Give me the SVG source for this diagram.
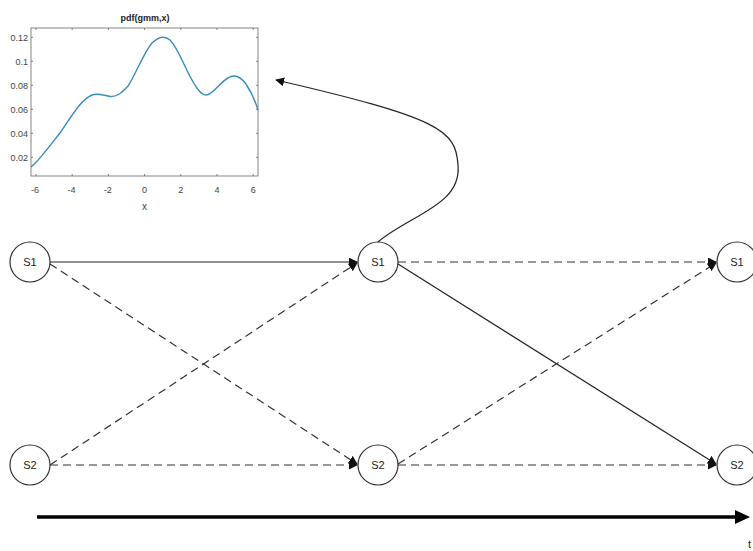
<svg xmlns="http://www.w3.org/2000/svg" width="753" height="551" viewBox="0 0 753 551">
<style>
.node circle{fill:#fff;stroke:#333;stroke-width:1.2}
.node text{font-family:"Liberation Sans",Arial,sans-serif;font-size:11px;fill:#222;text-anchor:middle}
.edge{fill:none;stroke:#222;stroke-width:1.2}
.dash{stroke-dasharray:8 5;stroke:#333}
.tick{font-family:"Liberation Sans",Arial,sans-serif;font-size:9px;fill:#444}
.ax{fill:none;stroke:#666;stroke-width:0.8}
</style>
<defs>
<marker id="ah" viewBox="0 0 10 10" refX="9" refY="5" markerWidth="9" markerHeight="9" markerUnits="userSpaceOnUse" orient="auto"><path d="M0,0 L10,5 L0,10 z" fill="#111"/></marker>
<marker id="ahs" viewBox="0 0 10 10" refX="9" refY="5" markerWidth="9" markerHeight="9" markerUnits="userSpaceOnUse" orient="auto"><path d="M0,0 L10,5 L0,10 z" fill="#111"/></marker>
</defs>
<rect width="753" height="551" fill="#fff"/>
<g id="plot">
<rect class="ax" x="31" y="28" width="227" height="148" fill="#fff"/>
<text x="145" y="21" font-family="Liberation Sans,Arial,sans-serif" font-size="9px" font-weight="bold" fill="#222" text-anchor="middle">pdf(gmm,x)</text>
<g class="ax">
<path d="M31,37.3h2M31,61.3h2M31,85.3h2M31,109.3h2M31,133.3h2M31,157.3h2M258,37.3h-2M258,61.3h-2M258,85.3h-2M258,109.3h-2M258,133.3h-2M258,157.3h-2"/>
<path d="M36,176v-2M72.2,176v-2M108.4,176v-2M144.6,176v-2M180.8,176v-2M217,176v-2M253.2,176v-2M36,28v2M72.2,28v2M108.4,28v2M144.6,28v2M180.8,28v2M217,28v2M253.2,28v2"/>
</g>
<g class="tick" text-anchor="end">
<text x="28" y="40.5">0.12</text><text x="28" y="64.5">0.1</text><text x="28" y="88.5">0.08</text><text x="28" y="112.5">0.06</text><text x="28" y="136.5">0.04</text><text x="28" y="160.5">0.02</text>
</g>
<g class="tick" text-anchor="middle">
<text x="35" y="193">-6</text><text x="71.5" y="193">-4</text><text x="107.7" y="193">-2</text><text x="144.6" y="193">0</text><text x="180.8" y="193">2</text><text x="217" y="193">4</text><text x="253.2" y="193">6</text>
<text x="144.6" y="210" font-size="10px">x</text>
</g>
<path d="M31,167 C40,160 50,145 60,133 C70,119 80,100 92,95 C98,93 104,95 110,96.5 C118,97 122,92 128,86 C136,74 144,52 152,43 C158,37 164,35 170,40 C178,48 184,66 192,80 C197,89 201,95 206,95 C213,95 220,82 228,78 C234,74 240,76 246,84 C250,90 255,100 258,110" fill="none" stroke="#3a8cba" stroke-width="1.4"/>
</g>
<g id="connectors">
<line class="edge" x1="50" y1="262" x2="357" y2="262" marker-end="url(#ah)"/>
<line class="edge dash" x1="50" y1="264" x2="357" y2="464" marker-end="url(#ah)"/>
<line class="edge dash" x1="50" y1="465" x2="357" y2="263" marker-end="url(#ah)"/>
<line class="edge dash" x1="50" y1="465" x2="357" y2="465" marker-end="url(#ah)"/>
<line class="edge dash" x1="398" y1="262" x2="716" y2="262" marker-end="url(#ah)"/>
<line class="edge" x1="398" y1="264" x2="716" y2="464" marker-end="url(#ah)"/>
<line class="edge dash" x1="398" y1="464" x2="716" y2="263" marker-end="url(#ah)"/>
<line class="edge dash" x1="398" y1="465" x2="716" y2="465" marker-end="url(#ah)"/>
<path class="edge" d="M378,242 C410,215 462,205 458,165 C456,130 440,118 276,80" marker-end="url(#ahs)"/>
<line x1="37" y1="517" x2="737" y2="517" stroke="#000" stroke-width="3.5"/>
<path d="M735,510 L750,517 L735,524 z" fill="#000"/>
</g>
<g id="S1a" class="node"><circle cx="30" cy="262" r="20"/><text x="30" y="266">S1</text></g>
<g id="S2a" class="node"><circle cx="30" cy="465" r="20"/><text x="30" y="469">S2</text></g>
<g id="S1b" class="node"><circle cx="378" cy="262" r="20"/><text x="378" y="266">S1</text></g>
<g id="S2b" class="node"><circle cx="378" cy="465" r="20"/><text x="378" y="469">S2</text></g>
<g id="S1c" class="node"><circle cx="737" cy="262" r="20"/><text x="737" y="266">S1</text></g>
<g id="S2c" class="node"><circle cx="737" cy="465" r="20"/><text x="737" y="469">S2</text></g>
<text x="748" y="548" font-family="Liberation Sans,Arial,sans-serif" font-size="11px" fill="#222">t</text>
</svg>
